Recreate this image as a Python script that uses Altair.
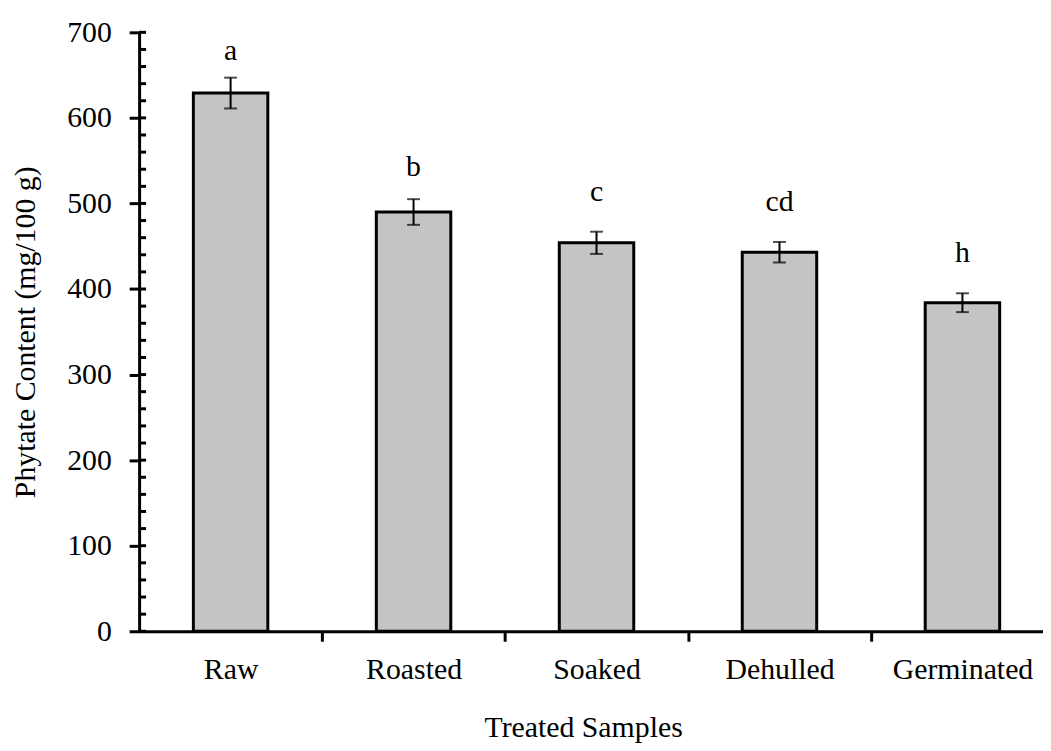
import altair as alt
import pandas as pd

samples = ["Raw", "Roasted", "Soaked", "Dehulled", "Germinated"]
means = [629, 490, 454, 443, 384]
errors = [18, 15, 13, 12, 11]
letters = ["a", "b", "c", "cd", "h"]
letter_pos = [668, 532, 503, 491, 431]
y_ticks = [0, 100, 200, 300, 400, 500, 600, 700]
minor_ticks = [0, 20, 40, 60, 80, 100, 120, 140, 160, 180, 200, 220, 240, 260, 280, 300,
               320, 340, 360, 380, 400, 420, 440, 460, 480, 500, 520, 540, 560, 580, 600,
               620, 640, 660, 680, 700]

df = pd.DataFrame({
    "sample": samples,
    "mean": means,
    "err": errors,
    "letter": letters,
    "lpos": letter_pos,
})
df["lo"] = df["mean"] - df["err"]
df["hi"] = df["mean"] + df["err"]
minor_df = pd.DataFrame({"v": minor_ticks})

FONT = "Liberation Serif"
STEP = 921 / 5

xscale = alt.Scale(range=[0, 921], paddingInner=0.593, paddingOuter=0.2965)
yscale = alt.Scale(domain=[0, 700], nice=False)

x = alt.X("sample:N", sort=samples, scale=xscale,
          axis=alt.Axis(title="Treated Samples", labelAngle=0,
                        tickOffset=STEP / 2, labelOffset=-STEP / 2,
                        tickSize=10, tickWidth=3, tickColor="black",
                        domainWidth=3, domainColor="black",
                        labelFont=FONT, labelFontSize=30, labelColor="black",
                        labelPadding=14,
                        titleFont=FONT, titleFontSize=30, titleFontWeight="normal",
                        titleColor="black", titleX=447, titleY=106,
                        titleBaseline="alphabetic", titleAlign="center"))

y = alt.Y("mean:Q", scale=yscale,
          axis=alt.Axis(title="Phytate Content (mg/100 g)", values=y_ticks,
                        grid=False, tickSize=10, tickWidth=3, tickColor="black",
                        domainWidth=3, domainColor="black",
                        labelFont=FONT, labelFontSize=30, labelColor="black",
                        labelPadding=18,
                        titleFont=FONT, titleFontSize=30, titleFontWeight="normal",
                        titleColor="black", titleX=-105, titleY=301.5,
                        titleBaseline="alphabetic", titleAlign="center"))

bars = alt.Chart(df).mark_bar(fill="#c4c4c4", stroke="black", strokeWidth=3).encode(
    x=x, y=y
)

err_rule = alt.Chart(df).mark_rule(color="black", strokeWidth=2).encode(
    x=alt.X("sample:N", sort=samples),
    y=alt.Y("lo:Q"),
    y2="hi:Q",
)
cap_hi = alt.Chart(df).mark_tick(color="black", thickness=2, size=13, orient="horizontal").encode(
    x=alt.X("sample:N", sort=samples), y=alt.Y("hi:Q")
)
cap_lo = alt.Chart(df).mark_tick(color="black", thickness=2, size=13, orient="horizontal").encode(
    x=alt.X("sample:N", sort=samples), y=alt.Y("lo:Q")
)

labels = alt.Chart(df).mark_text(font=FONT, fontSize=30, color="black",
                                 baseline="alphabetic", align="center").encode(
    x=alt.X("sample:N", sort=samples), y=alt.Y("lpos:Q"), text="letter:N"
)

minor = alt.Chart(minor_df).mark_rule(color="black", strokeWidth=3).encode(
    y=alt.Y("v:Q"), x=alt.value(0), x2=alt.value(7)
)

chart = alt.layer(bars, err_rule, cap_hi, cap_lo, labels, minor).properties(
    width=900, height=603,
    background="white",
    autosize=alt.AutoSizeParams(type="none"),
    padding={"left": 132, "top": 22, "right": 10, "bottom": 110},
).configure_view(stroke=None)

chart.save("out.html", embed_options={"renderer": "svg", "actions": False})
